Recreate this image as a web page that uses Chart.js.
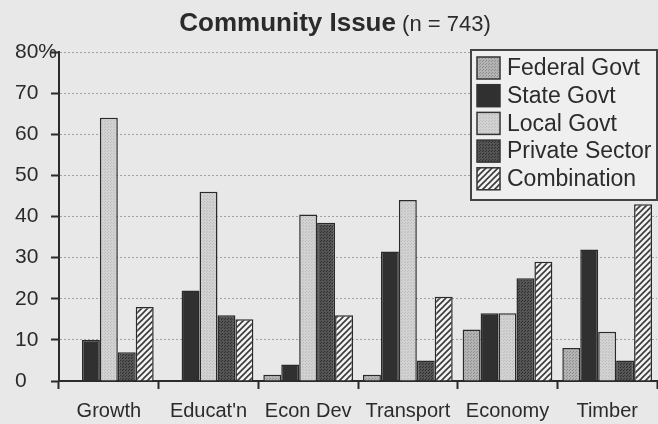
<!DOCTYPE html>
<html>
<head>
<meta charset="utf-8">
<script src="https://cdn.jsdelivr.net/npm/chart.js@4"></script>
<style>
  html, body { margin: 0; padding: 0; background: #e8e8e8; }
  #wrap { width: 658px; height: 424px; position: relative; }
</style>
</head>
<body>
<div id="wrap"><canvas id="chart" width="658" height="424"></canvas></div>
<script>
// Values (percent of n = 743)
const categories = ['Growth', "Educat'n", 'Econ Dev', 'Transport', 'Economy', 'Timber'];
const seriesNames = ['Federal Govt', 'State Govt', 'Local Govt', 'Private Sector', 'Combination'];
const federalGovt = [0, 0, 1.5, 1.5, 12.5, 8];
const stateGovt = [10, 22, 4, 31.5, 16.5, 32];
const localGovt = [64, 46, 40.5, 44, 16.5, 12];
const privateSector = [7, 16, 38.5, 5, 25, 5];
const combination = [18, 15, 16, 20.5, 29, 43];
const yTicks = [0, 10, 20, 30, 40, 50, 60, 70, 80];

const FONT = '"Liberation Sans", Arial, Helvetica, sans-serif';
const INK = '#2b2b2b';

// Fill patterns that imitate the print screens
const makeDots = (bg, dot) => {
    const c = document.createElement('canvas');
    c.width = 3; c.height = 3;
    const g = c.getContext('2d');
    g.fillStyle = bg; g.fillRect(0, 0, 3, 3);
    g.fillStyle = dot; g.fillRect(0, 0, 1, 1); g.fillRect(2, 1, 1, 1);
    return g.createPattern(c, 'repeat');
};

const makeHatch = () => {
    const c = document.createElement('canvas');
    c.width = 6; c.height = 6;
    const g = c.getContext('2d');
    g.fillStyle = '#f2f2f2'; g.fillRect(0, 0, 6, 6);
    g.strokeStyle = '#3a3a3a'; g.lineWidth = 1.6;
    g.beginPath();
    g.moveTo(0, 6); g.lineTo(6, 0);
    g.moveTo(-3, 3); g.lineTo(3, -3);
    g.moveTo(3, 9); g.lineTo(9, 3);
    g.stroke();
    return g.createPattern(c, 'repeat');
};

const fills = [
    makeDots('#b3b3b3', '#8e8e8e'),
    '#303030',
    makeDots('#d2d2d2', '#bdbdbd'),
    makeDots('#555555', '#2e2e2e'),
    makeHatch()
];
const seriesValues = [federalGovt, stateGovt, localGovt, privateSector, combination];

// Title with two weights, drawn on the canvas
const titlePlugin = {
    id: 'mixedTitle',
    afterDraw(chart) {
        const ctx = chart.ctx;
        const boldPart = 'Community Issue';
        const plainPart = ' (n = 743)';
        ctx.save();
        ctx.fillStyle = INK;
        ctx.textBaseline = 'alphabetic';
        ctx.font = 'bold 26px ' + FONT;
        const w1 = ctx.measureText(boldPart).width;
        ctx.font = '22px ' + FONT;
        const w2 = ctx.measureText(plainPart).width;
        const x0 = 335 - (w1 + w2) / 2;
        ctx.font = 'bold 26px ' + FONT;
        ctx.fillText(boldPart, x0, 31);
        ctx.font = '22px ' + FONT;
        ctx.fillText(plainPart, x0 + w1, 31);
        ctx.restore();
    }
};

// Boxed legend in the upper right corner of the plot
const legendPlugin = {
    id: 'boxLegend',
    afterDatasetsDraw(chart) {
        const ctx = chart.ctx;
        const left = 471, top = 50, right = 657, bottom = 200;
        ctx.save();
        ctx.fillStyle = '#efefef';
        ctx.fillRect(left, top, right - left, bottom - top);
        ctx.strokeStyle = '#444';
        ctx.lineWidth = 2;
        ctx.strokeRect(left, top, right - left, bottom - top);
        ctx.font = '23px ' + FONT;
        ctx.textBaseline = 'middle';
        chart.data.datasets.forEach((ds, i) => {
            const cy = 68 + i * 27.7;
            ctx.fillStyle = ds.backgroundColor;
            ctx.fillRect(477, cy - 11, 23, 22);
            ctx.strokeStyle = '#333';
            ctx.lineWidth = 1.5;
            ctx.strokeRect(477, cy - 11, 23, 22);
            ctx.fillStyle = INK;
            ctx.fillText(ds.label, 507, cy + 1);
        });
        ctx.restore();
    }
};

new Chart(document.getElementById('chart'), {
    type: 'bar',
    data: {
        labels: categories,
        datasets: seriesNames.map((name, i) => ({
            label: name,
            data: seriesValues[i],
            backgroundColor: fills[i],
            borderColor: '#2a2a2a',
            borderWidth: 1.5,
            categoryPercentage: 0.9,
            barPercentage: 1.0
        }))
    },
    options: {
        responsive: false,
        animation: false,
        layout: { padding: { left: 15, right: 1, top: 52, bottom: 0 } },
        plugins: {
            legend: { display: false },
            title: { display: false },
            tooltip: { enabled: false }
        },
        scales: {
            x: {
                afterFit: (axis) => { axis.height = 43; },
                grid: {
                    offset: true,
                    drawOnChartArea: false,
                    drawTicks: true,
                    tickLength: 8,
                    tickColor: INK,
                    tickWidth: 2
                },
                border: { display: true, color: INK, width: 2 },
                ticks: {
                    color: INK,
                    padding: 10,
                    font: { family: FONT, size: 20 }
                }
            },
            y: {
                min: yTicks[0],
                max: yTicks[yTicks.length - 1],
                afterFit: (axis) => { axis.width = 44; },
                afterBuildTicks: (axis) => {
                    axis.ticks = yTicks.map(v => ({ value: v }));
                },
                grid: {
                    color: (c) => (c.tick && c.tick.value === 0) ? 'rgba(0,0,0,0)' : '#a2a2a2',
                    lineWidth: 1,
                    tickLength: 8,
                    tickColor: INK,
                    tickWidth: 2,
                    tickBorderDash: []
                },
                border: { display: true, color: INK, width: 2, dash: [2, 2] },
                ticks: {
                    color: INK,
                    crossAlign: 'far',
                    padding: -4,
                    font: { family: FONT, size: 21 },
                    callback: (v) => v === 80 ? '80%' : v
                }
            }
        }
    },
    plugins: [titlePlugin, legendPlugin]
});
</script>
</body>
</html>
